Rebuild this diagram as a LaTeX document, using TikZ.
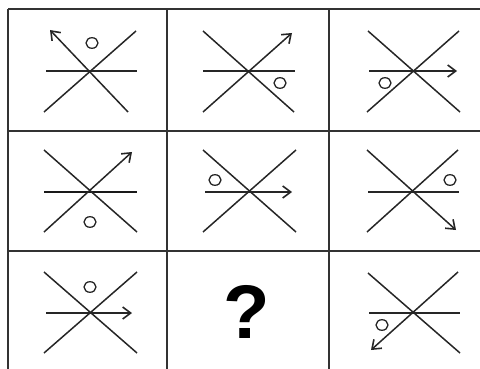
\documentclass[tikz,border=0pt]{standalone}
\usepackage{fontspec}
\setmainfont{Liberation Sans}
\usetikzlibrary{arrows.meta}
\tikzset{
  gridline/.style={draw=black!80, line width=1.5pt},
  fig/.style={draw=black!85, line width=1.5pt},
  figarrow/.style={fig, -{Straight Barb[length=8pt,width=12pt,line width=1.6pt]}},
  boldline/.style={draw=black!90, line width=2pt},
  ring/.style={draw=black!85, line width=1.3pt},
}
\newcommand{\ring}[1]{\draw[ring] #1 ellipse [x radius=6pt, y radius=5.3pt];}
\begin{document}
\begin{tikzpicture}[x=1pt,y=-1pt]
\useasboundingbox (0,0) rectangle (480,369);
% grid
\draw[gridline] (8,9) -- (480,9);
\draw[gridline] (8,131) -- (480,131);
\draw[gridline] (8,251) -- (480,251);
\draw[gridline] (8,9) -- (8,369);
\draw[gridline] (167,9) -- (167,369);
\draw[gridline] (329,9) -- (329,369);
% cell 1
\draw[fig] (46,71) -- (137,71);
\draw[fig] (44,112) -- (136,31);
\draw[figarrow] (128,112) -- (50,30);
\ring{(92,43)}
% cell 2
\draw[fig] (203,71) -- (295,71);
\draw[fig] (203,31) -- (294,112);
\draw[figarrow] (203,112) -- (292,33);
\ring{(280,83)}
% cell 3
\draw[figarrow] (369,71) -- (457,71);
\draw[fig] (368,31) -- (460,112);
\draw[fig] (367,112) -- (459,31);
\ring{(385,83)}
% cell 4
\draw[boldline] (44,192) -- (137,192);
\draw[fig] (44,150) -- (137,232);
\draw[figarrow] (44,232) -- (132,152);
\ring{(90,222)}
% cell 5
\draw[figarrow] (205,192) -- (292,192);
\draw[fig] (203,150) -- (296,232);
\draw[fig] (203,232) -- (296,150);
\ring{(215,180)}
% cell 6
\draw[fig] (368,192) -- (459,192);
\draw[figarrow] (367,150) -- (456,230);
\draw[fig] (367,232) -- (458,150);
\ring{(450,180)}
% cell 7
\draw[figarrow] (46,313) -- (132,313);
\draw[fig] (44,272) -- (137,353);
\draw[fig] (44,353) -- (137,272);
\ring{(90,287)}
% cell 8
\node[inner sep=0pt] (q) at (247,312) {\fontsize{76}{76}\selectfont\bfseries ?};
% cell 9
\draw[fig] (369,313) -- (460,313);
\draw[fig] (368,273) -- (460,353);
\draw[figarrow] (458,272) -- (371,350);
\ring{(382,325)}
\end{tikzpicture}
\end{document}
